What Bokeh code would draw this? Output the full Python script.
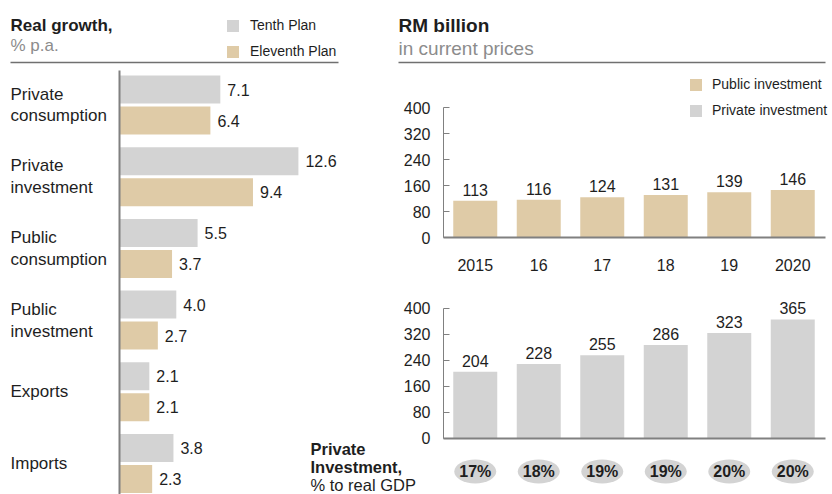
from bokeh.plotting import figure
from bokeh.models import (Range1d, LinearAxis, FixedTicker, Legend, LegendItem,
                          ColumnDataSource, Label)
from bokeh.transform import dodge
from bokeh.core.properties import value
from bokeh.embed import file_html
from bokeh.resources import INLINE

# ---------------- data ----------------
growth_categories = ["Private\nconsumption", "Private\ninvestment", "Public\nconsumption",
                     "Public\ninvestment", "Exports", "Imports"]
tenth_plan = [7.1, 12.6, 5.5, 4.0, 2.1, 3.8]
eleventh_plan = [6.4, 9.4, 3.7, 2.7, 2.1, 2.3]

years = ["2015", "16", "17", "18", "19", "2020"]
public_investment = [113, 116, 124, 131, 139, 146]
private_investment = [204, 228, 255, 286, 323, 365]
private_share_gdp = ["17%", "18%", "19%", "19%", "20%", "20%"]
rm_ticks = [0, 80, 160, 240, 320, 400]

# ---------------- style ----------------
FONT = "Liberation Sans"
GREY = "#d3d3d3"
TAN = "#dfcba7"
ELL = "#d3d3d3"
TEXT = "#1e1e1e"
SUB = "#8c8c8c"
AXIS = "#808080"
RULE = "#707070"

W, H = 832, 494
X0, Y0 = 0, 0  # canvas offset of the coordinates used below

p = figure(width=W, height=H, output_backend="svg", toolbar_location=None,
           x_range=Range1d(X0, X0 + W), y_range=Range1d(Y0 + H, Y0),
           x_axis_location=None, y_axis_location=None, min_border=0,
           outline_line_color=None, title=None)
p.xgrid.visible = False
p.ygrid.visible = False
p.background_fill_color = "white"
p.border_fill_color = "white"

# layout of the sub charts (pixels)
LX0, LX_SCALE = 119.0, 14.2          # left chart: x=0 position, px per unit
LY_C0, LY_PITCH = 104.5, 71.7        # left chart: first group center, group pitch
RX_C0, RX_PITCH = 474.75, 63.5       # right charts: first bar center, pitch
R_SCALE = 130.0 / 400.0              # right charts: px per RM billion
RT_ZERO, RB_ZERO = 237.0, 437.5      # right charts: zero lines

p.extra_x_ranges["lx"] = Range1d((X0 - LX0) / LX_SCALE, (X0 + W - LX0) / LX_SCALE)
p.extra_y_ranges["ly"] = Range1d((Y0 + H - LY_C0) / LY_PITCH, (Y0 - LY_C0) / LY_PITCH)
p.extra_x_ranges["rx"] = Range1d((X0 - RX_C0) / RX_PITCH, (X0 + W - RX_C0) / RX_PITCH)
p.extra_y_ranges["rty"] = Range1d((RT_ZERO - (Y0 + H)) / R_SCALE, (RT_ZERO - Y0) / R_SCALE)
p.extra_y_ranges["rby"] = Range1d((RB_ZERO - (Y0 + H)) / R_SCALE, (RB_ZERO - Y0) / R_SCALE)

# ---------------- left chart ----------------
left_src = ColumnDataSource(dict(
    idx=list(range(len(growth_categories))),
    cat=growth_categories,
    tenth=tenth_plan, eleventh=eleventh_plan,
    tenth_lbl=[f"{v:.1f}" for v in tenth_plan],
    eleventh_lbl=[f"{v:.1f}" for v in eleventh_plan],
))
BAR_OFF = 15.5 / LY_PITCH
BAR_H = 28.0 / LY_PITCH

r_tenth = p.hbar(y=dodge("idx", -BAR_OFF), left=0, right="tenth", height=BAR_H,
                 fill_color=GREY, line_color=None, source=left_src,
                 x_range_name="lx", y_range_name="ly")
r_eleventh = p.hbar(y=dodge("idx", BAR_OFF), left=0, right="eleventh", height=BAR_H,
                    fill_color=TAN, line_color=None, source=left_src,
                    x_range_name="lx", y_range_name="ly")

for fld, off in (("tenth", -BAR_OFF), ("eleventh", BAR_OFF)):
    p.text(x=fld, y=dodge("idx", off), text=fld + "_lbl", source=left_src,
           x_offset=7, text_align="left", text_baseline="middle",
           text_font=value(FONT), text_font_size=value("16px"), text_color=TEXT,
           x_range_name="lx", y_range_name="ly")

p.text(x=10, y="idx", text="cat", source=left_src, text_align="left",
       text_baseline="middle", text_line_height=1.15,
       text_font=value(FONT), text_font_size=value("17px"), text_color=TEXT,
       y_range_name="ly")

lax = LinearAxis(x_range_name="lx", y_range_name="ly", fixed_location=0,
                 bounds=(-0.48, 6.0), ticker=FixedTicker(ticks=[], minor_ticks=[]),
                 axis_line_color=AXIS, axis_line_width=2,
                 major_tick_line_color=None, minor_tick_line_color=None,
                 major_label_text_font_size="0px")
p.add_layout(lax, "left")

# ---------------- right charts ----------------
right_src = ColumnDataSource(dict(
    idx=list(range(len(years))), year=years,
    public=public_investment, private=private_investment,
    pub_lbl=[str(v) for v in public_investment],
    priv_lbl=[str(v) for v in private_investment],
    share=private_share_gdp,
))
BAR_W = 44.0 / RX_PITCH

r_pub = p.vbar(x="idx", bottom=0, top="public", width=BAR_W, fill_color=TAN,
               line_color=None, source=right_src, x_range_name="rx", y_range_name="rty")
r_priv = p.vbar(x="idx", bottom=0, top="private", width=BAR_W, fill_color=GREY,
                line_color=None, source=right_src, x_range_name="rx", y_range_name="rby")

for fld, rng in (("public", "rty"), ("private", "rby")):
    p.text(x="idx", y=fld, text=("pub_lbl" if fld == "public" else "priv_lbl"),
           source=right_src, y_offset=-11, text_align="center", text_baseline="middle",
           text_font=value(FONT), text_font_size=value("16px"), text_color=TEXT,
           x_range_name="rx", y_range_name=rng)

for rng in ("rty", "rby"):
    yax = LinearAxis(y_range_name=rng, fixed_location=443, bounds=(0, 400),
                     ticker=FixedTicker(ticks=rm_ticks, minor_ticks=[]),
                     major_tick_in=6, major_tick_out=0, major_tick_line_color=AXIS,
                     minor_tick_line_color=None, axis_line_color=AXIS, axis_line_width=1,
                     major_label_standoff=13, major_label_text_font=FONT,
                     major_label_text_font_size="16px", major_label_text_color=TEXT)
    p.add_layout(yax, "left")

xt = LinearAxis(x_range_name="rx", y_range_name="rty", fixed_location=0,
                bounds=(-0.5, 5.52), ticker=FixedTicker(ticks=list(range(len(years))), minor_ticks=[]),
                major_label_overrides={i: y for i, y in enumerate(years)},
                major_tick_line_color=None, minor_tick_line_color=None,
                axis_line_color=AXIS, axis_line_width=2, major_label_standoff=15,
                major_label_text_font=FONT, major_label_text_font_size="16px",
                major_label_text_color=TEXT)
p.add_layout(xt, "below")

xb = LinearAxis(x_range_name="rx", y_range_name="rby", fixed_location=0,
                bounds=(-0.5, 5.52), ticker=FixedTicker(ticks=[], minor_ticks=[]),
                major_tick_line_color=None, minor_tick_line_color=None,
                axis_line_color=AXIS, axis_line_width=2, major_label_text_font_size="0px")
p.add_layout(xb, "below")

# share of GDP bubbles
p.ellipse(x="idx", y=471, width=42, height=24, width_units="screen", height_units="screen",
          fill_color=ELL, line_color=None, source=right_src, x_range_name="rx")
p.text(x="idx", y=471, text="share", source=right_src, text_align="center",
       text_baseline="middle", text_font=value(FONT), text_font_size=value("16px"),
       text_font_style="bold", text_color=TEXT, x_range_name="rx")

# ---------------- headers, rules ----------------
def label(x, y, txt, size, color=TEXT, bold=False):
    p.add_layout(Label(x=x, y=y, text=txt, text_font=FONT, text_font_size=size,
                       text_color=color, text_font_style="bold" if bold else "normal",
                       text_baseline="middle", text_align="left"))

label(10, 25, "Real growth,", "17px", bold=True)
label(10, 45, "% p.a.", "17px", color=SUB)
label(398, 25, "RM billion", "19px", bold=True)
label(398, 48, "in current prices", "19px", color=SUB)
label(310, 448, "Private", "16.5px", bold=True)
label(310, 466, "Investment,", "16.5px", bold=True)
label(310, 484, "% to real GDP", "16.5px")

p.segment(x0=[10, 398], x1=[338, 825], y0=[62, 62], y1=[62, 62],
          line_color=RULE, line_width=1.5)

# ---------------- legends ----------------
leg_left = Legend(items=[LegendItem(label="Tenth Plan", renderers=[r_tenth]),
                         LegendItem(label="Eleventh Plan", renderers=[r_eleventh])],
                  location=(225 - X0, (Y0 + H) - 59),
                  glyph_width=15, glyph_height=15, label_height=15, spacing=10,
                  padding=0, margin=0, label_standoff=10,
                  border_line_color=None, background_fill_alpha=0,
                  label_text_font=FONT, label_text_font_size="14px", label_text_color=TEXT)
p.add_layout(leg_left)

leg_right = Legend(items=[LegendItem(label="Public investment", renderers=[r_pub]),
                          LegendItem(label="Private investment", renderers=[r_priv])],
                   location=(688 - X0, (Y0 + H) - 118),
                   glyph_width=15, glyph_height=15, label_height=15, spacing=10,
                   padding=0, margin=0, label_standoff=9,
                   border_line_color=None, background_fill_alpha=0,
                   label_text_font=FONT, label_text_font_size="14px", label_text_color=TEXT)
p.add_layout(leg_right)

open("out.html", "w").write(file_html(p, INLINE))
